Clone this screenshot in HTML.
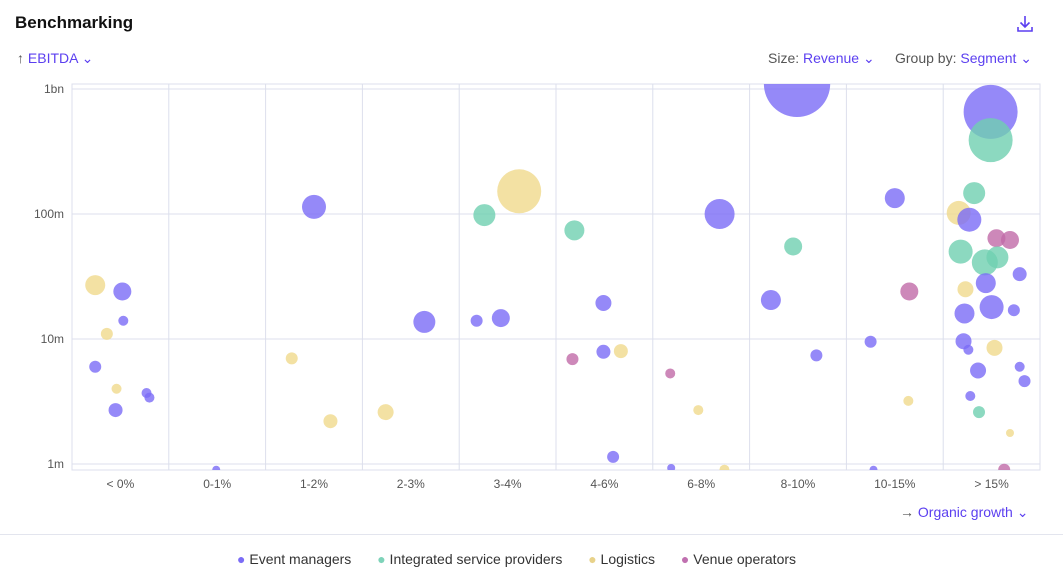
<!DOCTYPE html>
<html><head><meta charset="utf-8"><style>
body{margin:0;width:1063px;height:581px;background:#fff;font-family:"Liberation Sans",sans-serif;overflow:hidden;position:relative}
.t{position:absolute;white-space:nowrap}
.p{color:#5b3ff0}
.g{color:#555}
</style></head><body>
<div class="t" style="left:15px;top:13px;font-size:17px;font-weight:bold;color:#111">Benchmarking</div>
<svg class="t" style="left:1015px;top:14px" width="20" height="20" viewBox="0 0 20 20"><path d="M10 2v11M5.5 8.5 10 13l4.5-4.5M3 13v4h14v-4" fill="none" stroke="#5b3ff0" stroke-width="1.6"/></svg>
<div class="t p" style="left:17px;top:50px;font-size:14px"><span class="g">↑</span> EBITDA ⌄</div>
<div class="t" style="left:768px;top:50px;font-size:14px"><span class="g">Size:</span> <span class="p">Revenue ⌄</span></div>
<div class="t" style="left:895px;top:50px;font-size:14px"><span class="g">Group by:</span> <span class="p">Segment ⌄</span></div>
<div class="t p" style="left:900px;top:504px;font-size:14px"><span class="g">→</span> Organic growth ⌄</div>
<div class="t" style="left:0;top:534px;width:1063px;height:1px;background:#e3e5ee"></div>
<div class="t" style="left:237px;top:551px;font-size:14px;color:#333">
<span><span style="color:#7b6cf6">●</span> Event managers</span>
<span style="margin-left:22px"><span style="color:#7ed3b9">●</span> Integrated service providers</span>
<span style="margin-left:22px"><span style="color:#e8d28a">●</span> Logistics</span>
<span style="margin-left:22px"><span style="color:#c070b0">●</span> Venue operators</span>
</div>
<svg id="c" class="t" style="left:0;top:0" width="1063" height="581"></svg>
<script>
const categories=["< 0%","0-1%","1-2%","2-3%","3-4%","4-6%","6-8%","8-10%","10-15%","> 15%"];
const yTicks=[1,10,100,1000];
const yTickLabels=["1m","10m","100m","1bn"];
const seriesNames=["Event managers","Integrated service providers","Logistics","Venue operators"];
const seriesColors=["#7b6cf6","#6fcfb0","#f0d98c","#c06aa8"];
// x position in category units, EBITDA in millions, revenue (size), series index
const xVals=[0.24,0.52,0.53,0.36,0.24,0.46,0.77,0.8,0.45,1.49,2.5,2.27,2.67,3.64,3.24,4.62,4.26,4.18,4.43,5.19,5.49,5.49,5.67,5.17,5.59,6.69,6.18,6.47,6.19,6.74,7.49,7.45,7.22,7.69,8.5,8.65,8.25,8.64,8.28,9.49,9.49,9.32,9.16,9.27,9.55,9.69,9.18,9.56,9.43,9.79,9.44,9.23,9.5,9.22,9.73,9.21,9.26,9.53,9.36,9.79,9.84,9.28,9.37,9.69,9.63];
const ebitda=[27,24,14,11,6,4,3.7,3.4,2.7,0.9,114,7,2.2,13.7,2.6,152,98,14,14.7,74,19.4,7.9,8,6.9,1.14,100,5.3,2.7,0.93,0.9,1100,55,20.5,7.4,134,24,9.5,3.2,0.9,656,390,147,102,90,64,62,50,45,41,33,28,25,18,16,17,9.6,8.2,8.5,5.6,6,4.6,3.5,2.6,1.77,0.9];
const revenue=[100,81,25,36,36,25,25,25,49,16,144,36,49,121,64,484,121,36,81,100,64,49,49,36,36,225,25,25,16,25,1100,81,100,36,100,81,36,25,16,729,484,121,144,144,81,81,144,121,169,49,100,64,144,100,36,64,25,64,64,25,36,25,36,16,36];
const series=[2,0,0,2,0,2,0,0,0,0,0,2,2,0,2,2,1,0,0,1,0,0,2,3,0,0,3,2,0,2,0,1,0,0,0,3,0,2,0,0,1,1,2,0,3,3,1,1,1,0,0,2,0,0,0,0,0,2,0,0,0,0,1,2,3];
const L=72,R=1040,T=84,B=470,colW=(R-L)/categories.length;
const X=v=>L+v*colW;
const Y=v=>464-Math.log10(v)*125;
const rad=s=>Math.sqrt(s);
const svg=document.getElementById('c');const NS='http://www.w3.org/2000/svg';
function mk(t,a){const e=document.createElementNS(NS,t);for(const k in a)e.setAttribute(k,a[k]);svg.appendChild(e);return e;}
const cp=mk('clipPath',{id:'pc'});cp.appendChild(document.createElementNS(NS,'rect'));
const cr=cp.firstChild;cr.setAttribute('x',L);cr.setAttribute('y',T);cr.setAttribute('width',R-L);cr.setAttribute('height',B-T);
const fr=mk('rect',{x:L,y:T,width:R-L,height:B-T,fill:'none',stroke:'#dcdfec'});


yTicks.forEach((v,i)=>{
 const g=mk('line',{x1:L,x2:R,y1:Y(v),y2:Y(v),stroke:'#dcdfec'});
 
 
 const t=mk('text',{x:L-8,y:Y(v)+4,'text-anchor':'end','font-size':12,fill:'#555','font-family':'Liberation Sans'});
 t.textContent=yTickLabels[i];
 
 
});
categories.forEach((c,i)=>{
 if(i>0){const g=mk('line',{x1:X(i),x2:X(i),y1:T,y2:B,stroke:'#dcdfec'});
 
 }
 const t=mk('text',{x:X(i+0.5),y:488,'text-anchor':'middle','font-size':12,fill:'#555','font-family':'Liberation Sans'});
 t.textContent=c;
 
 
});
const grp=mk('g',{'clip-path':'url(#pc)'});
xVals.forEach((x,i)=>{
 const c=document.createElementNS(NS,'circle');
 c.setAttribute('cx',X(x));c.setAttribute('cy',Y(ebitda[i]));c.setAttribute('r',rad(revenue[i]));
 c.setAttribute('fill',seriesColors[series[i]]);c.setAttribute('fill-opacity',0.8);
 
 
 grp.appendChild(c);
});
</script>
</body></html>
